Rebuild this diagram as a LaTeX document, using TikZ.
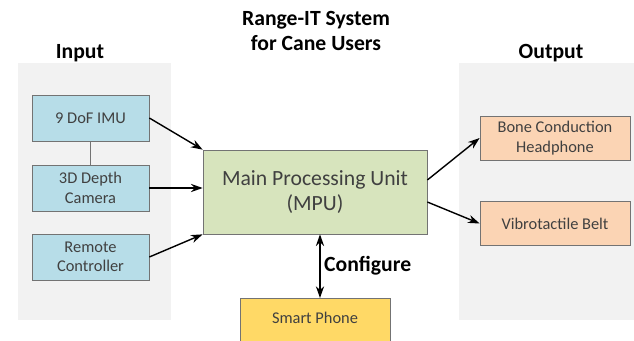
\documentclass[tikz,border=0pt]{standalone}
\usepackage{fontspec}
\setmainfont{Carlito}
\usetikzlibrary{shapes,positioning,arrows.meta}

\definecolor{panelgray}{HTML}{F2F2F2}
\definecolor{inblue}{HTML}{B7DDE8}
\definecolor{mpugreen}{HTML}{D7E4BD}
\definecolor{outorange}{HTML}{FBD4B4}
\definecolor{phoneyellow}{HTML}{FFD966}
\definecolor{boxtext}{HTML}{404040}

\begin{document}
\begin{tikzpicture}
	[x=0.03cm,y=-0.03cm,
	every node/.style={inner sep=1pt,font=\fontsize{14}{16.5}\selectfont,text=boxtext,align=center},
	unitbox/.style={draw=gray!90!black,line width=0.6pt,minimum width=4.5cm,minimum height=1.32cm},
	inbox/.style={unitbox,fill=inblue,minimum width=3.51cm,minimum height=1.38cm},
	outbox/.style={unitbox,fill=outorange},
	heading/.style={font=\fontsize{18.5}{21}\selectfont\bfseries,text=black},
	link/.style={-{Stealth[length=10pt,width=7pt]},line width=1.2pt}]

	\clip (0,0) rectangle (634,341);
	\useasboundingbox (0,0) rectangle (634,341);

	% panels
	\fill[panelgray] (18,63) rectangle (171,320);
	\fill[panelgray] (459,63) rectangle (634,320);

	\node[heading] (title) at (316,31) {Range-IT System\\for Cane Users};
	\node[heading] (inlab) at (80,53) {Input};
	\node[heading] (outlab) at (551,53) {Output};

	% inputs
	\node[inbox] (imu) at (90.5,118) {9 DoF IMU};
	\node[inbox] (cam) at (90.5,188) {3D Depth\\Camera};
	\node[inbox] (remote) at (90.5,257) {Remote\\Controller};

	\node[unitbox,fill=mpugreen,minimum width=6.72cm,minimum height=2.52cm,
		font=\fontsize{18.5}{22}\selectfont] (mpu) at (315,192) {Main Processing Unit\\(MPU)};

	% outputs
	\node[outbox] (bone) at (555,138) {Bone Conduction\\Headphone};
	\node[outbox] (belt) at (555,223.5) {Vibrotactile Belt};

	\node[unitbox,fill=phoneyellow,minimum height=1.8cm,anchor=north] (phone) at (315,298) {\raisebox{2.6ex}{Smart Phone}};

	\draw[gray!90!black,line width=0.8pt] (imu) -- (cam);
	\draw[link] (imu.east) -- (mpu.north west);
	\draw[link] (cam.east) -- (cam.east -| mpu.west);
	\draw[link] (remote.east) -- (mpu.south west);
	\draw[link] ([yshift=0.36cm]mpu.east) -- (bone.west);
	\draw[link] ([yshift=-0.3cm]mpu.east) -- (belt.west);
	\draw[link,{Stealth[length=10pt,width=7pt]}-{Stealth[length=10pt,width=7pt]}]
		([xshift=0.15cm]mpu.south) -- ([xshift=0.15cm]phone.north)
		node[midway,right=2pt,heading] (cfg) {Configure};
\end{tikzpicture}
\end{document}
